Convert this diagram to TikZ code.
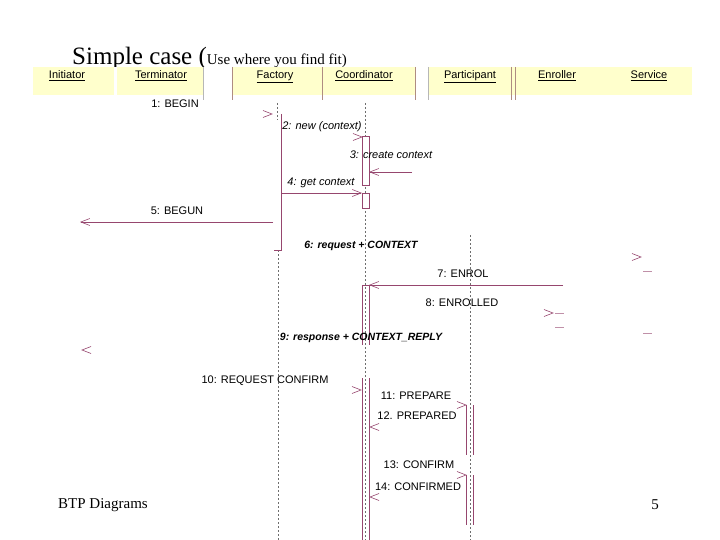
\documentclass[tikz,border=0pt]{standalone}
\usepackage{fontspec}
\setmainfont{Liberation Serif}
\setsansfont{Liberation Sans}
\usetikzlibrary{arrows.meta,calc}
\definecolor{band}{RGB}{255,255,204}
\definecolor{plum}{RGB}{150,70,110}
\definecolor{rule}{RGB}{175,140,130}
\definecolor{lifegray}{RGB}{110,110,110}

\tikzset{
  head/.style={font=\sffamily\fontsize{11}{12}\selectfont, inner sep=0pt, anchor=base},
  lbl/.style={font=\sffamily\fontsize{11}{12}\selectfont, inner sep=0pt},
  ilbl/.style={lbl, font=\sffamily\itshape\fontsize{11}{12}\selectfont},
  blbl/.style={lbl, font=\sffamily\bfseries\itshape\fontsize{10.5}{12}\selectfont},
  msg/.style={plum, line width=0.6pt, -{Straight Barb[length=9pt,width=7pt]}},
  life/.style={lifegray, dash pattern=on 2pt off 2pt, line width=0.5pt},
  bar/.style={plum, line width=0.6pt},
}
\newcommand{\tipR}[1]{\draw[plum, line width=0.6pt] ($(#1)+(-9,-3.5)$) -- (#1) -- ($(#1)+(-9,3.5)$);}
\newcommand{\tipL}[1]{\draw[plum, line width=0.6pt] ($(#1)+(9,-3.5)$) -- (#1) -- ($(#1)+(9,3.5)$);}

\begin{document}
\begin{tikzpicture}[x=1pt,y=-1pt]
    \useasboundingbox (0,0) rectangle (720,540);
    % Title
    \node[anchor=base west, inner sep=0pt, font=\fontsize{25}{27}\selectfont] (title) at (72,65)
        {Simple case (\fontsize{15}{16}\selectfont Use where you find fit)};
    % Header band
    \fill[band] (33,67) rectangle (692,95);
    \fill[white] (114,67) rectangle (117,95);
    \fill[white] (203,67) rectangle (232,95);
    \fill[white] (415,67) rectangle (428,95);
    \foreach \x in {232,322,415,511,515}
        \draw[rule] (\x,67) -- (\x,100);
    \foreach \x in {203,428}
        \draw[lifegray!50] (\x,67) -- (\x,100);
    \node[head] (initiator)   at (67,79)  {\underline{Initiator}};
    \node[head] (terminator)  at (161,79) {\underline{Terminator}};
    \node[head] (factory)     at (275,79) {\underline{Factory}};
    \node[head] (coordinator) at (364,79) {\underline{Coordinator}};
    \node[head] (participant) at (470,79) {\underline{Participant}};
    \node[head] (enroller)    at (557,79) {\underline{Enroller}};
    \node[head] (service)     at (649,79) {\underline{Service}};
    % Lifelines
    \draw[life] (277,103) -- (277,120);
    \draw[life] (278,250) -- (278,540);
    \draw[life] (365,103) -- (365,540);
    \draw[life] (470,235) -- (470,540);
    % Activations
    \draw[bar] (281,114) -- (281,250) -- (274,250);
    \draw[bar, fill=white] (362,136) rectangle (369,185);
    \draw[bar, fill=white] (362,193) rectangle (369,208);
    \draw[bar] (362,345) -- (362,285) -- (369,285) -- (369,345);
    \draw[bar] (362,378) -- (362,540);
    \draw[bar] (369,378) -- (369,540);
    \foreach \y/\z in {405/455, 475/525} {
        \draw[bar] (466,\y) -- (466,\z);
        \draw[bar] (473,\y) -- (473,\z);
    }
    \foreach \x/\y in {555/313, 555/327, 643/271, 643/333}
        \draw[plum!60] (\x,\y) -- ++(9,0);
    % Messages
    \node[lbl]  (m1)  at (175,104) {1: BEGIN};
    \coordinate (h1) at (272,114);  \tipR{h1}
    \node[ilbl] (m2)  at (322,127) {2: new (context)};
    \coordinate (h2) at (362,137);  \tipR{h2}
    \node[ilbl] (m3)  at (391,155) {3: create context};
    \coordinate (s3) at (412,172);  \coordinate (h3) at (369,172);
    \draw[msg] (s3) -- (h3);
    \node[ilbl] (m4)  at (321,183) {4: get context};
    \coordinate (s4) at (281,193);  \coordinate (h4) at (362,193);
    \draw[msg] (s4) -- (h4);
    \node[lbl]  (m5)  at (177,211) {5: BEGUN};
    \coordinate (s5) at (273,222);  \coordinate (h5) at (80,222);
    \draw[msg] (s5) -- (h5);
    \node[blbl] (m6)  at (361,246) {6: request + CONTEXT};
    \coordinate (h6) at (641,257);  \tipR{h6}
    \node[lbl]  (m7)  at (463,274) {7: ENROL};
    \coordinate (s7) at (563,285);  \coordinate (h7) at (369,285);
    \draw[msg] (s7) -- (h7);
    \node[lbl]  (m8)  at (462,303) {8: ENROLLED};
    \coordinate (h8) at (553,313);  \tipR{h8}
    \node[blbl] (m9)  at (361,338) {9: response + CONTEXT\_REPLY};
    \coordinate (h9) at (82,350);   \tipL{h9}
    \node[lbl]  (m10) at (265,381) {10: REQUEST CONFIRM};
    \coordinate (h10) at (361,390); \tipR{h10}
    \node[lbl]  (m11) at (416,396) {11: PREPARE};
    \coordinate (h11) at (466,405); \tipR{h11}
    \node[lbl]  (m12) at (417,416) {12. PREPARED};
    \coordinate (h12) at (370,427); \tipL{h12}
    \node[lbl]  (m13) at (419,465) {13: CONFIRM};
    \coordinate (h13) at (466,475); \tipR{h13}
    \node[lbl]  (m14) at (418,487) {14: CONFIRMED};
    \coordinate (h14) at (370,497); \tipL{h14}
    % Footer
    \node[anchor=west, inner sep=0pt, font=\fontsize{15}{16}\selectfont] (foot) at (58,505) {BTP Diagrams};
    \node[inner sep=0pt, font=\fontsize{15}{16}\selectfont] (page) at (655,505) {5};
\end{tikzpicture}
\end{document}
